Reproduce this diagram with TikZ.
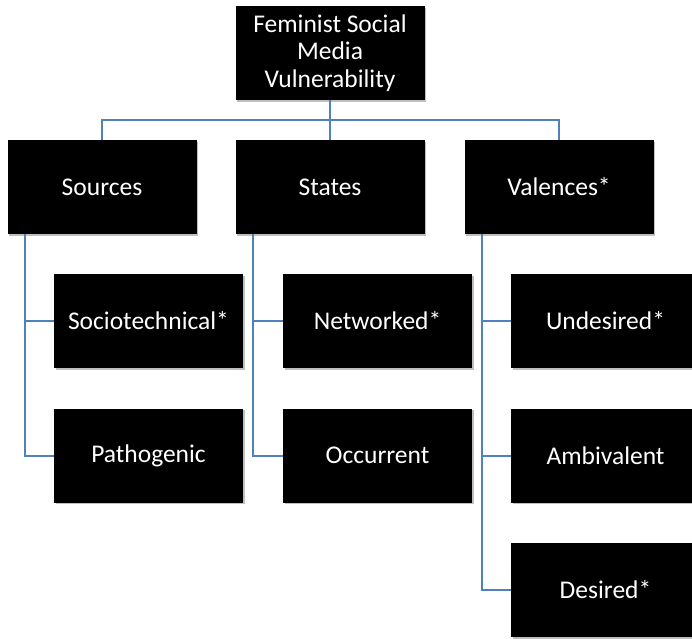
\documentclass[tikz,border=0pt]{standalone}
\usepackage{fontspec}
\setmainfont{Carlito}
\usetikzlibrary{shadows}
\definecolor{connblue}{HTML}{4F81BD}
\tikzset{
  box/.style={fill=black, text=white, minimum width=189pt, minimum height=94pt,
    inner sep=0pt, align=center, font=\fontsize{25.5}{27.5}\selectfont,
    drop shadow={shadow xshift=1.5pt, shadow yshift=-1.5pt, opacity=0.25, fill=black}},
  conn/.style={draw=connblue, line width=2pt}
}
\begin{document}
\begin{tikzpicture}[x=1pt,y=1pt]
\useasboundingbox (0,0) rectangle (692,-638);
\clip (0,0) rectangle (692,-638);
% root
\node[box] (root) at (330,-53) {Feminist Social\\Media\\Vulnerability};
% level 1
\node[box] (src) at (102,-187) {Sources};
\node[box] (sta) at (330,-187) {States};
\node[box] (val) at (559,-187) {Valences*};
% level 2
\node[box] (soc) at (148.5,-321) {Sociotechnical*};
\node[box] (pat) at (148.5,-455.5) {Pathogenic};
\node[box] (net) at (377.5,-321) {Networked*};
\node[box] (occ) at (377.5,-455.5) {Occurrent};
\node[box] (und) at (605.5,-321) {Undesired*};
\node[box] (amb) at (605.5,-455.5) {Ambivalent};
\node[box] (des) at (605.5,-590) {Desired*};
% connectors
\coordinate (bus) at (330,-120);
\draw[conn] (root.south) -- (sta.north);
\draw[conn] (src.north) |- (bus) -| (val.north);
\draw[conn] ([xshift=18pt]src.south west) |- (soc.west);
\draw[conn] ([xshift=18pt]src.south west) |- (pat.west);
\draw[conn] ([xshift=18pt]sta.south west) |- (net.west);
\draw[conn] ([xshift=18pt]sta.south west) |- (occ.west);
\draw[conn] ([xshift=18pt]val.south west) |- (und.west);
\draw[conn] ([xshift=18pt]val.south west) |- (amb.west);
\draw[conn] ([xshift=18pt]val.south west) |- (des.west);
\end{tikzpicture}
\end{document}
